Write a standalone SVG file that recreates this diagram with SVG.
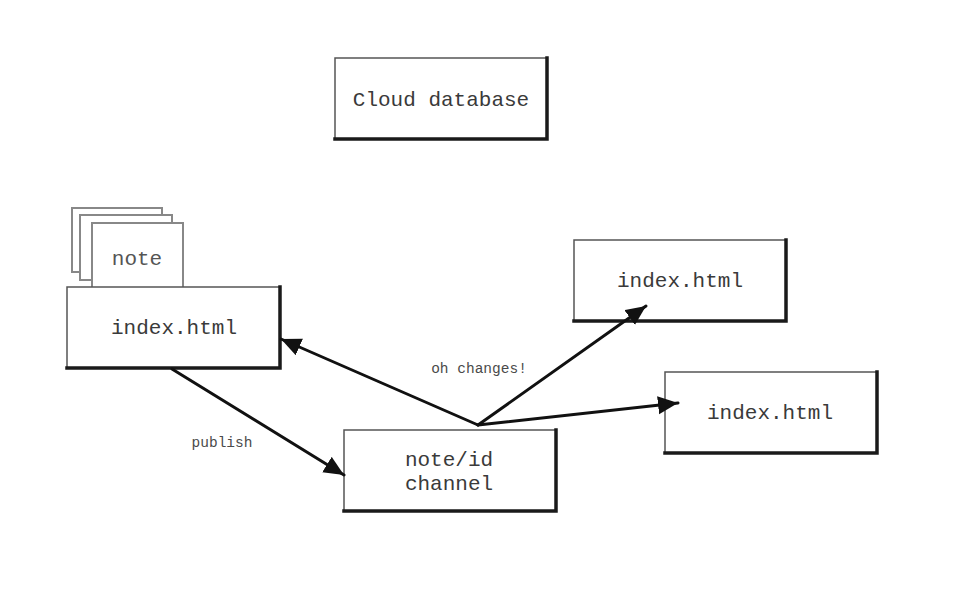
<svg xmlns="http://www.w3.org/2000/svg" width="978" height="591" viewBox="0 0 978 591">
<defs>
<style>
.box{fill:#fff;stroke:#555;stroke-width:1.5}
.shade{fill:none;stroke:#1a1a1a;stroke-width:3.5;stroke-linecap:square}
.ghost{fill:#fff;stroke:#888;stroke-width:2}
.lbl{font-family:"Liberation Mono","Courier New",monospace;font-size:21px;fill:#3a3a3a;text-anchor:middle}
.small{font-family:"Liberation Mono","Courier New",monospace;font-size:14.5px;fill:#4a4a4a;text-anchor:middle}
.conn{fill:none;stroke:#111;stroke-width:3;stroke-linecap:round}
</style>
<marker id="ah" markerUnits="userSpaceOnUse" markerWidth="22" markerHeight="20" refX="20" refY="9" orient="auto">
<path d="M0,0 L20,9 L0,18 Z" fill="#111"/>
</marker>
</defs>
<rect width="978" height="591" fill="#fff"/>
<g id="cloud-database">
<rect class="box" x="335" y="58" width="212" height="81"/>
<path class="shade" d="M547,58 L547,139 L335,139"/>
<text class="lbl" x="441" y="106">Cloud database</text>
</g>
<g id="notes">
<rect class="ghost" x="72" y="208" width="90" height="64"/>
<rect class="ghost" x="80" y="215" width="92" height="65"/>
<rect class="ghost" x="92" y="223" width="91" height="65"/>
<text class="lbl" x="137" y="265" style="fill:#555">note</text>
</g>
<g id="index-left">
<rect class="box" x="67" y="287" width="213" height="81"/>
<path class="shade" d="M280,287 L280,368 L67,368"/>
<text class="lbl" x="174" y="334">index.html</text>
</g>
<g id="index-top-right">
<rect class="box" x="574" y="240" width="212" height="81"/>
<path class="shade" d="M786,240 L786,321 L574,321"/>
<text class="lbl" x="680" y="287">index.html</text>
</g>
<g id="index-right">
<rect class="box" x="665" y="372" width="212" height="81"/>
<path class="shade" d="M877,372 L877,453 L665,453"/>
<text class="lbl" x="770" y="419">index.html</text>
</g>
<g id="channel">
<rect class="box" x="344" y="430" width="212" height="81"/>
<path class="shade" d="M556,430 L556,511 L344,511"/>
<text class="lbl" x="449" y="466">note/id</text>
<text class="lbl" x="449" y="490">channel</text>
</g>
<g id="connectors">
<line class="conn" x1="172" y1="369" x2="344" y2="475" marker-end="url(#ah)"/>
<line class="conn" x1="478" y1="425" x2="281" y2="339" marker-end="url(#ah)"/>
<line class="conn" x1="478" y1="425" x2="646" y2="306" marker-end="url(#ah)"/>
<line class="conn" x1="478" y1="425" x2="678" y2="403" marker-end="url(#ah)"/>
<text class="small" x="222" y="447">publish</text>
<text class="small" x="479" y="373">oh changes!</text>
</g>
</svg>
